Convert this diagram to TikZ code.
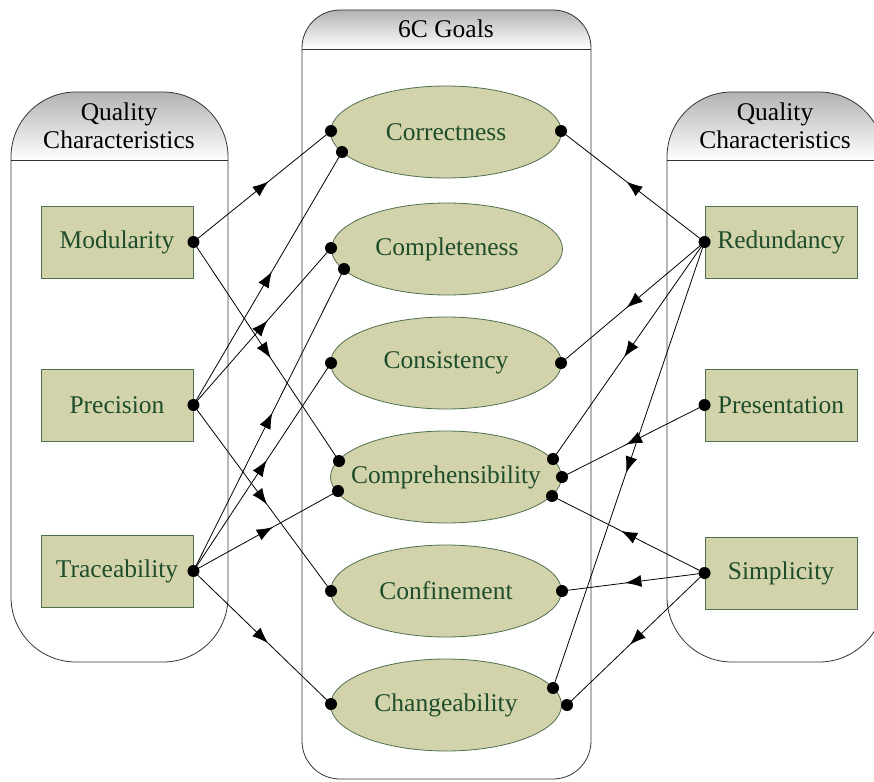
\documentclass[tikz,border=0pt]{standalone}
\usepackage{fontspec}
\setmainfont{Liberation Serif}
\usetikzlibrary{shapes.geometric,arrows.meta,decorations.markings}
\definecolor{khaki}{HTML}{D2D3AB}
\definecolor{leaf}{HTML}{1E4D2B}
\definecolor{boxedge}{HTML}{4F6F4F}
% goal labels are allowed to fill the ellipse without enlarging it
\newcommand\goallabel[1]{\makebox[0pt]{#1}}
\begin{document}
\begin{tikzpicture}[x=1pt,y=-1pt,
  panel/.style={draw=black!80, line width=0.8pt},
  hdr/.style={top color=black!30, bottom color=white},
  hdrtext/.style={font=\fontsize{25.5}{28}\selectfont, text=black, align=center, inner sep=0pt},
  charbox/.style={rectangle, draw=boxedge, fill=khaki, text=leaf, minimum width=152pt,
    minimum height=72pt, line width=0.9pt, inner sep=0pt, font=\fontsize{25.5}{28}\selectfont},
  goal/.style={ellipse, draw=boxedge, fill=khaki, text=leaf, minimum width=231pt,
    minimum height=92pt, inner sep=0pt, line width=0.8pt, font=\fontsize{25.5}{28}\selectfont},
  link/.style={line width=0.8pt, postaction={decorate}, decoration={markings,
    mark=at position 0.5 with {\arrow[xshift=8pt]{Latex[length=16pt,width=12pt]}}}},
  port/.style={circle, fill=black, inner sep=0pt, minimum size=12pt}
]
\clip (0,0) rectangle (874,781);

% ---- panels ----
\begin{scope}
  \clip[rounded corners=65pt] (11,92) rectangle (228,662);
  \shade[hdr] (11,92) rectangle (228,160);
\end{scope}
\draw[panel, rounded corners=65pt] (11,92) rectangle (228,662);
\draw[panel] (11,160) -- (228,160);

\begin{scope}
  \clip[rounded corners=65pt] (667,92) rectangle (884,662);
  \shade[hdr] (667,92) rectangle (884,160);
\end{scope}
\draw[panel, rounded corners=65pt] (667,92) rectangle (884,662);
\draw[panel] (667,160) -- (884,160);

\begin{scope}
  \clip[rounded corners=38pt] (302,10) rectangle (591,779);
  \shade[hdr] (302,10) rectangle (591,49);
\end{scope}
\draw[panel, rounded corners=38pt] (302,10) rectangle (591,779);
\draw[panel] (302,49) -- (591,49);

\node[hdrtext] (lhead) at (119,126) {Quality\\Characteristics};
\node[hdrtext] (rhead) at (775,126) {Quality\\Characteristics};
\node[hdrtext] (chead) at (446,29) {6C Goals};

% ---- characteristics ----
\node[charbox] (mod) at (117,242) {Modularity};
\node[charbox] (pre) at (117,405) {Precision};
\node[charbox] (tra) at (117,571) {Traceability};
\node[charbox] (red) at (781,242) {Redundancy};
\node[charbox] (pres) at (781,405) {Presentation};
\node[charbox] (sim) at (781,573) {Simplicity};

% ---- goals ----
\node[goal] (cor) at (446,132) {\goallabel{Correctness}};
\node[goal] (com) at (447,249) {\goallabel{Completeness}};
\node[goal] (con) at (446,363) {\goallabel{Consistency}};
\node[goal] (cmp) at (446,477) {\goallabel{Comprehensibility}};
\node[goal] (cnf) at (446,591) {\goallabel{Confinement}};
\node[goal] (chg) at (446,705) {\goallabel{Changeability}};

% ---- ports ----
\node[port] (pmod) at (mod.east) {};
\node[port] (ppre) at (pre.east) {};
\node[port] (ptra) at (tra.east) {};
\node[port] (pred) at (red.west) {};
\node[port] (ppres) at (pres.west) {};
\node[port] (psim) at (sim.west) {};

\node[port] (cor1) at (331,131) {};
\node[port] (cor2) at (342,152) {};
\node[port] (cor3) at (561,131) {};
\node[port] (com1) at (331,248) {};
\node[port] (com2) at (344,269) {};
\node[port] (con1) at (331,363) {};
\node[port] (con2) at (561,363) {};
\node[port] (cmp1) at (339,461) {};
\node[port] (cmp2) at (338,491) {};
\node[port] (cmp3) at (553,459) {};
\node[port] (cmp4) at (562,477) {};
\node[port] (cmp5) at (552,496) {};
\node[port] (cnf1) at (331,591) {};
\node[port] (cnf2) at (562,591) {};
\node[port] (chg1) at (331,704) {};
\node[port] (chg2) at (553,688) {};
\node[port] (chg3) at (567,705) {};

% ---- links ----
\draw[link] (pmod.center) -- (cor1.center);
\draw[link] (pmod.center) -- (cmp1.center);
\draw[link] (ppre.center) -- (cor2.center);
\draw[link] (ppre.center) -- (com1.center);
\draw[link] (ppre.center) -- (cnf1.center);
\draw[link] (ptra.center) -- (com2.center);
\draw[link] (ptra.center) -- (con1.center);
\draw[link] (ptra.center) -- (cmp2.center);
\draw[link] (ptra.center) -- (chg1.center);

\draw[link] (pred.center) -- (cor3.center);
\draw[link] (pred.center) -- (con2.center);
\draw[link] (pred.center) -- (cmp3.center);
\draw[link] (pred.center) -- (chg2.center);
\draw[link] (ppres.center) -- (cmp4.center);
\draw[link] (psim.center) -- (cmp5.center);
\draw[link] (psim.center) -- (cnf2.center);
\draw[link] (psim.center) -- (chg3.center);
\end{tikzpicture}
\end{document}
